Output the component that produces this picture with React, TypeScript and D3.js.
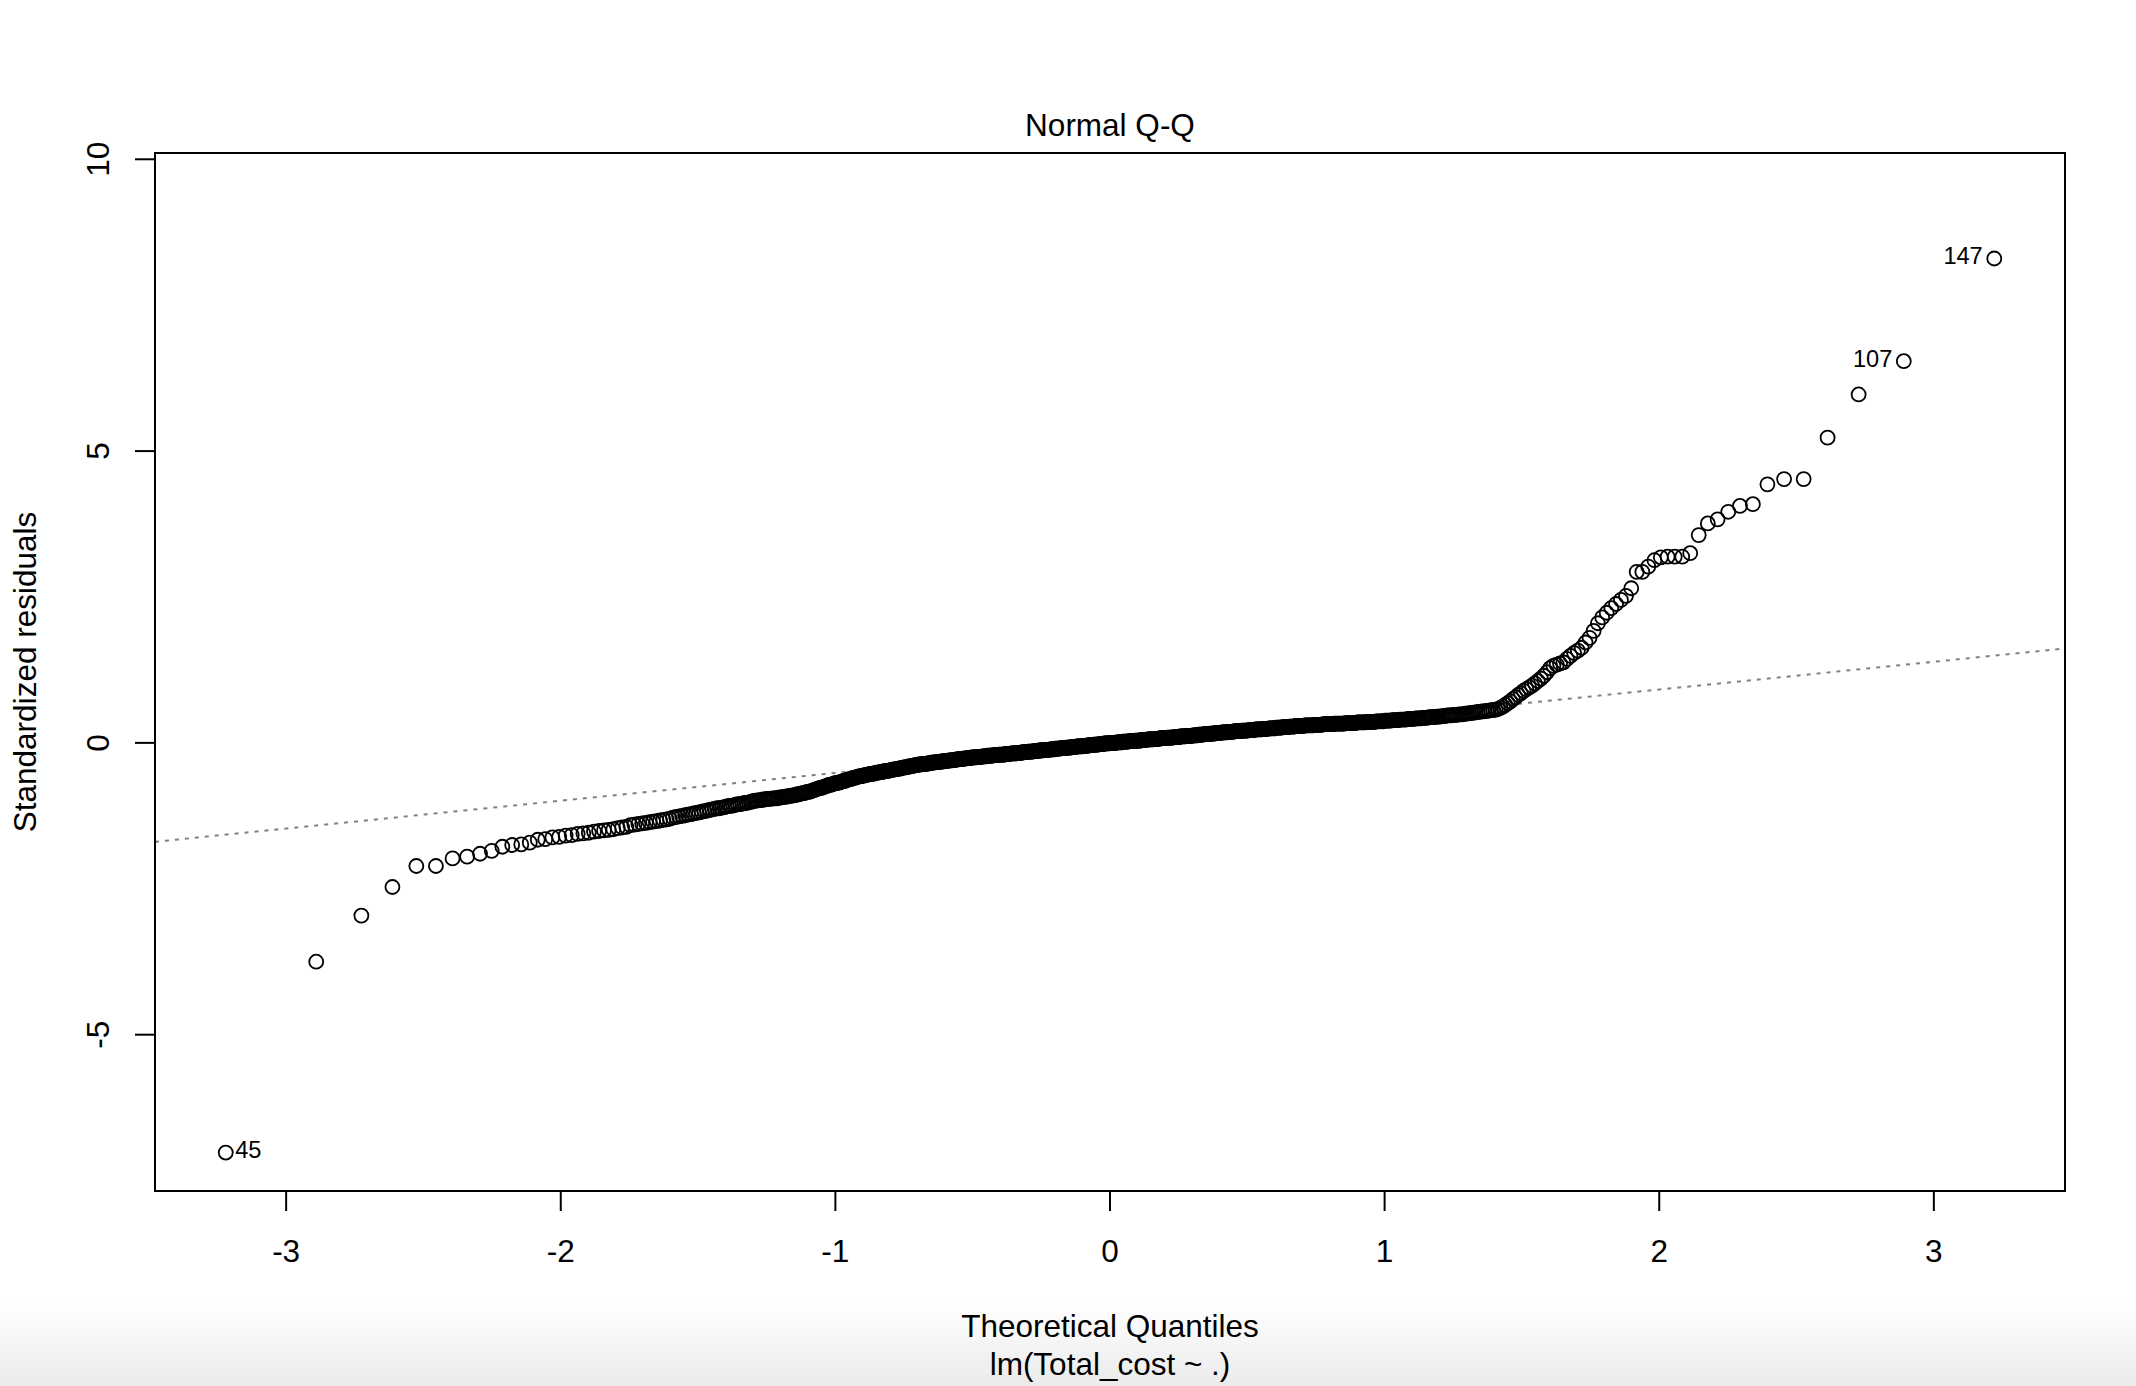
import React from "react";
import * as d3 from "d3";

// ---- data (sorted standardized residuals) ----
const lowerTail = [-7.02,-3.75,-2.96,-2.47,-2.11,-2.11,-1.98,-1.95,-1.90,-1.85,-1.78,-1.75,-1.74,-1.71,-1.66,-1.65,-1.62,-1.61,-1.59,-1.58,-1.56,-1.55,-1.54,-1.52,-1.51];

const bodyLow = [
-1.50,-1.49,-1.48,-1.46,-1.45,-1.44,-1.41,-1.40,-1.39,-1.38,
-1.37,-1.36,-1.35,-1.34,-1.33,-1.32,-1.31,-1.30,
-1.28,-1.27,-1.26,-1.25,-1.24,-1.23,-1.22,-1.21,-1.20,
-1.19,-1.18,-1.17,-1.16,-1.15,-1.14,-1.13,-1.12,-1.12,-1.11,-1.10,
-1.09,-1.08,-1.08,-1.07,-1.06,-1.05,-1.05,-1.04,-1.03,-1.03,-1.02,-1.01,-1.00,
-0.99,-0.99,-0.98,-0.98,-0.97,-0.97,-0.96,-0.96,-0.96,-0.95,-0.95,-0.95,-0.94,-0.94,
-0.93,-0.93,-0.92,-0.92,-0.91,-0.91,-0.90,-0.90,-0.89,-0.88,-0.88,-0.87,-0.86,-0.86,-0.85,-0.84,
-0.84,-0.83,-0.82,-0.81,-0.80,-0.79,-0.78,-0.77,-0.77,-0.76,-0.75,-0.74,-0.73,-0.72,-0.72,-0.71,-0.70,-0.69,
-0.69,-0.68,-0.68,-0.67,-0.66,-0.65,-0.65,-0.64,-0.63,-0.62,-0.62,-0.61,-0.60,-0.60,-0.59,-0.58,-0.58,-0.57,-0.57,-0.56,
-0.56,-0.55,-0.55,-0.54,-0.54,-0.53,-0.53,-0.53,-0.52,-0.52,-0.51,-0.51,-0.50,-0.50,-0.50,-0.49,-0.49,-0.48,-0.48,-0.48,-0.47,
-0.47,-0.46,-0.46,-0.46,-0.45,-0.45,-0.44,-0.44,-0.44,-0.43,-0.43,-0.42,-0.42,-0.42,-0.41,-0.41,-0.40,-0.40,-0.40,-0.39,-0.39,-0.38,-0.38,-0.38,
-0.37,-0.37,-0.37,-0.37,-0.36,-0.36,-0.36,-0.36,-0.35,-0.35,-0.35,-0.34,-0.34,-0.34,-0.34,-0.33,-0.33,-0.33,-0.33,-0.32,-0.32,-0.32,-0.32,-0.31,-0.31,
-0.31,-0.31,-0.31,-0.30,-0.30,-0.30,-0.30,-0.29,-0.29,-0.29,-0.29,-0.28,-0.28,-0.28,-0.28,-0.28,-0.27,-0.27,-0.27,-0.27,-0.26,-0.26,-0.26,-0.26,-0.26,-0.25,-0.25,
-0.25,-0.25,-0.25,-0.25,-0.24,-0.24,-0.24,-0.24,-0.24,-0.23,-0.23,-0.23,-0.23,-0.23,-0.22,-0.22,-0.22,-0.22,-0.22,-0.22,-0.21,-0.21,-0.21,-0.21,-0.21,-0.21,-0.20,-0.20,
-0.20,-0.20,-0.20,-0.20,-0.20,-0.19,-0.19,-0.19,-0.19,-0.19,-0.19,-0.18,-0.18,-0.18,-0.18,-0.18,-0.18,-0.17,-0.17,-0.17,-0.17,-0.17,-0.17,-0.16,-0.16,-0.16,-0.16,-0.16,-0.16,
-0.15,-0.15,-0.15,-0.15,-0.15,-0.15,-0.14,-0.14,-0.14,-0.14,-0.14,-0.14,-0.13,-0.13,-0.13,-0.13,-0.13,-0.13,-0.12,-0.12,-0.12,-0.12,-0.12,-0.12,-0.11,-0.11,-0.11,-0.11,-0.11,-0.11,
-0.10,-0.10,-0.10,-0.10,-0.10,-0.10,-0.09,-0.09,-0.09,-0.09,-0.09,-0.09,-0.08,-0.08,-0.08,-0.08,-0.08,-0.08,-0.07,-0.07,-0.07,-0.07,-0.07,-0.07,-0.06,-0.06,-0.06,-0.06,-0.06,-0.06,-0.06,
-0.05,-0.05,-0.05,-0.05,-0.05,-0.05,-0.04,-0.04,-0.04,-0.04,-0.04,-0.04,-0.03,-0.03,-0.03,-0.03,-0.03,-0.03,-0.02,-0.02,-0.02,-0.02,-0.02,-0.02,-0.01,-0.01,-0.01,-0.01,-0.01,-0.01,-0.01
];

const bodyHigh = [
0.00,0.00,0.00,0.00,0.00,0.00,0.00,0.01,0.01,0.01,0.01,0.01,0.01,0.01,0.02,0.02,0.02,0.02,0.02,0.02,0.02,0.03,0.03,0.03,0.03,0.03,0.03,0.03,0.04,0.04,0.04,
0.04,0.04,0.04,0.04,0.05,0.05,0.05,0.05,0.05,0.05,0.05,0.06,0.06,0.06,0.06,0.06,0.06,0.06,0.07,0.07,0.07,0.07,0.07,0.07,0.07,0.08,0.08,0.08,0.08,0.08,0.08,
0.08,0.08,0.09,0.09,0.09,0.09,0.09,0.09,0.09,0.10,0.10,0.10,0.10,0.10,0.10,0.10,0.11,0.11,0.11,0.11,0.11,0.11,0.11,0.12,0.12,0.12,0.12,0.12,0.12,0.12,
0.13,0.13,0.13,0.13,0.13,0.13,0.14,0.14,0.14,0.14,0.14,0.14,0.15,0.15,0.15,0.15,0.15,0.15,0.16,0.16,0.16,0.16,0.16,0.16,0.17,0.17,0.17,0.17,0.17,
0.17,0.17,0.18,0.18,0.18,0.18,0.18,0.18,0.19,0.19,0.19,0.19,0.19,0.19,0.19,0.20,0.20,0.20,0.20,0.20,0.20,0.20,0.21,0.21,0.21,0.21,0.21,0.21,
0.21,0.22,0.22,0.22,0.22,0.22,0.22,0.22,0.23,0.23,0.23,0.23,0.23,0.23,0.23,0.24,0.24,0.24,0.24,0.24,0.24,0.25,0.25,0.25,0.25,0.25,0.25,
0.25,0.26,0.26,0.26,0.26,0.26,0.26,0.27,0.27,0.27,0.27,0.27,0.27,0.28,0.28,0.28,0.28,0.28,0.28,0.29,0.29,0.29,0.29,0.29,0.29,
0.29,0.29,0.30,0.30,0.30,0.30,0.30,0.30,0.30,0.30,0.31,0.31,0.31,0.31,0.31,0.31,0.31,0.31,0.32,0.32,0.32,0.32,0.32,0.32,
0.32,0.32,0.32,0.33,0.33,0.33,0.33,0.33,0.33,0.33,0.33,0.33,0.34,0.34,0.34,0.34,0.34,0.34,0.34,0.34,0.34,
0.35,0.35,0.35,0.35,0.35,0.35,0.35,0.36,0.36,0.36,0.36,0.36,0.36,0.36,0.37,0.37,0.37,0.37,0.37,0.37,
0.38,0.38,0.38,0.38,0.38,0.39,0.39,0.39,0.39,0.39,0.40,0.40,0.40,0.40,0.40,0.41,0.41,0.41,
0.41,0.41,0.42,0.42,0.42,0.42,0.43,0.43,0.43,0.43,0.44,0.44,0.44,0.44,0.45,0.45,
0.45,0.46,0.46,0.46,0.47,0.47,0.47,0.48,0.48,0.48,0.49,0.49,0.49,0.50,0.50,
0.51,0.51,0.52,0.52,0.53,0.53,0.54,0.54,0.55,0.55,0.56,0.56,
0.57,0.58,0.60
];

const upperTail = [0.62,0.65,0.68,0.71,0.75,0.78,0.82,0.85,0.89,0.92,0.95,0.98,1.02,1.06,1.10,1.15,1.21,1.28,1.32,1.34,1.36,1.38,1.44,1.49,1.54,1.58,1.63,1.72,1.80,1.92,2.05,2.15,2.23,2.31,2.38,2.45,2.52,2.65,2.93,2.93,3.02,3.13,3.18,3.19,3.19,3.19,3.25,3.56,3.76,3.83,3.96,4.06,4.09,4.43,4.52,4.52,5.23,5.97,6.54,8.30];

const idLabels = ["45", "107", "147"];
const xTickValues = [-3, -2, -1, 0, 1, 2, 3];
const yTickValues = [-5, 0, 5, 10];
const titleText = "Normal Q-Q";
const xLabel = "Theoretical Quantiles";
const xSubLabel = "lm(Total_cost ~ .)";
const yLabel = "Standardized residuals";

// ---- helpers ----
function qnorm(p: number): number {
  const a = [-3.969683028665376e1, 2.209460984245205e2, -2.759285104469687e2, 1.38357751867269e2, -3.066479806614716e1, 2.506628277459239];
  const b = [-5.447609879822406e1, 1.615858368580409e2, -1.556989798598866e2, 6.680131188771972e1, -1.328068155288572e1];
  const c = [-7.784894002430293e-3, -3.223964580411365e-1, -2.400758277161838, -2.549671618283766, 4.374664141464968, 2.938163982698783];
  const d = [7.784695709041462e-3, 3.224671290700398e-1, 2.445134137142996, 3.754408661907416];
  const plow = 0.02425;
  if (p < plow) {
    const q = Math.sqrt(-2 * Math.log(p));
    return (((((c[0] * q + c[1]) * q + c[2]) * q + c[3]) * q + c[4]) * q + c[5]) / ((((d[0] * q + d[1]) * q + d[2]) * q + d[3]) * q + 1);
  }
  if (p <= 1 - plow) {
    const q = p - 0.5, r = q * q;
    return ((((((a[0] * r + a[1]) * r + a[2]) * r + a[3]) * r + a[4]) * r + a[5]) * q) / (((((b[0] * r + b[1]) * r + b[2]) * r + b[3]) * r + b[4]) * r + 1);
  }
  const q = Math.sqrt(-2 * Math.log(1 - p));
  return -(((((c[0] * q + c[1]) * q + c[2]) * q + c[3]) * q + c[4]) * q + c[5]) / ((((d[0] * q + d[1]) * q + d[2]) * q + d[3]) * q + 1);
}

export default function App() {
  const W = 2136, H = 1386;
  const left = 155, right = 2065, top = 153, bottom = 1191;
  const FONT = "'Liberation Sans', Arial, Helvetica, sans-serif";
  const FS = 31.5;

  const resid = [...lowerTail, ...bodyLow, ...bodyHigh, ...upperTail];
  const n = resid.length;
  const pts = resid.map((r, i) => ({ x: qnorm((i + 1 - 0.5) / n), y: r, i }));

  const xe = d3.extent(pts, (d) => d.x) as [number, number];
  const xr = xe[1] - xe[0];
  const x = d3.scaleLinear().domain([xe[0] - 0.04 * xr, xe[1] + 0.04 * xr]).range([left, right]);

  const ye = d3.extent(resid) as [number, number];
  const yl: [number, number] = [ye[0], ye[1] + (ye[1] - ye[0]) * 0.075];
  const yr = yl[1] - yl[0];
  const y = d3.scaleLinear().domain([yl[0] - 0.04 * yr, yl[1] + 0.04 * yr]).range([bottom, top]);

  // qqline through quartiles
  const sorted = resid.slice().sort((a, b) => a - b);
  const q1 = d3.quantile(sorted, 0.25) as number;
  const q3 = d3.quantile(sorted, 0.75) as number;
  const z1 = qnorm(0.25), z3 = qnorm(0.75);
  const slope = (q3 - q1) / (z3 - z1);
  const intercept = q1 - slope * z1;
  const [xd0, xd1] = x.domain();

  const labelled = [
    { p: pts[0], id: idLabels[0], side: "right" },
    { p: pts[n - 2], id: idLabels[1], side: "left" },
    { p: pts[n - 1], id: idLabels[2], side: "left" },
  ];

  return (
    <svg width={W} height={H} style={{ position: "absolute", left: 0, top: 0, background: "#fff" }} fontFamily={FONT}>
      <defs>
        <linearGradient id="shade" x1="0" y1="0" x2="0" y2="1">
          <stop offset="0" stopColor="#ffffff" />
          <stop offset="1" stopColor="#ebebeb" />
        </linearGradient>
        <clipPath id="plotclip">
          <rect x={left} y={top} width={right - left} height={bottom - top} />
        </clipPath>
      </defs>
      <rect x={0} y={0} width={W} height={H} fill="#fff" />
      <rect x={0} y={1300} width={W} height={H - 1300} fill="url(#shade)" />

      {/* qq line */}
      <line
        clipPath="url(#plotclip)"
        x1={x(xd0)} y1={y(intercept + slope * xd0)}
        x2={x(xd1)} y2={y(intercept + slope * xd1)}
        stroke="#808080" strokeWidth={2} strokeDasharray="4 6"
      />

      {/* points */}
      <g fill="none" stroke="#000" strokeWidth={1.8}>
        {pts.map((d) => (
          <circle key={d.i} cx={x(d.x)} cy={y(d.y)} r={7} />
        ))}
      </g>

      {/* id labels */}
      {labelled.map((l) => (
        <text
          key={l.id}
          x={l.side === "right" ? x(l.p.x) + 9.5 : x(l.p.x) - 11.5}
          y={y(l.p.y) + 5.8}
          textAnchor={l.side === "right" ? "start" : "end"}
          fontSize={23.6}
          fill="#000"
        >
          {l.id}
        </text>
      ))}

      {/* box */}
      <rect x={left} y={top} width={right - left} height={bottom - top} fill="none" stroke="#000" strokeWidth={2} />

      {/* axes ticks */}
      <g stroke="#000" strokeWidth={2}>
        {xTickValues.map((v) => (
          <line key={v} x1={x(v)} x2={x(v)} y1={bottom} y2={bottom + 20} />
        ))}
        {yTickValues.map((v) => (
          <line key={v} x1={left} x2={left - 20} y1={y(v)} y2={y(v)} />
        ))}
      </g>
      {xTickValues.map((v) => (
        <text key={v} x={x(v)} y={1262} textAnchor="middle" fontSize={FS} fill="#000">
          {String(v)}
        </text>
      ))}
      {yTickValues.map((v) => (
        <text key={v} transform={`translate(109,${y(v)}) rotate(-90)`} textAnchor="middle" fontSize={FS} fill="#000">
          {String(v)}
        </text>
      ))}

      {/* titles */}
      <text x={(left + right) / 2} y={136} textAnchor="middle" fontSize={FS} fill="#000">{titleText}</text>
      <text x={(left + right) / 2} y={1337} textAnchor="middle" fontSize={FS} fill="#000">{xLabel}</text>
      <text x={(left + right) / 2} y={1375} textAnchor="middle" fontSize={FS} fill="#000">{xSubLabel}</text>
      <text transform={`translate(35.5,${(top + bottom) / 2}) rotate(-90)`} textAnchor="middle" fontSize={FS} fill="#000">{yLabel}</text>
    </svg>
  );
}
